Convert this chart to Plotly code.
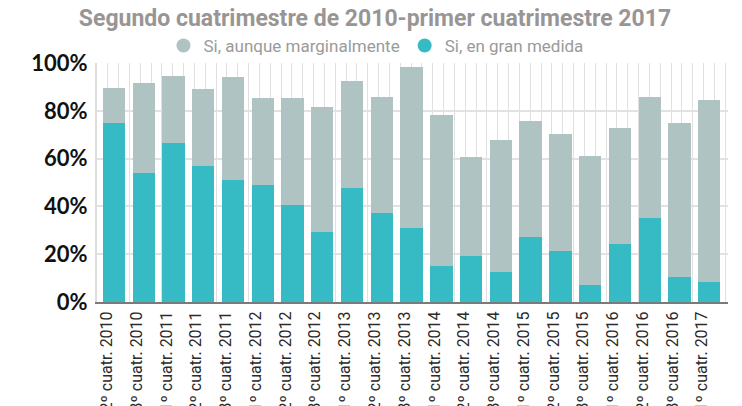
import plotly.graph_objects as go

# Periodos (cuatrimestres)
periodos = [
    "2º cuatr. 2010", "3º cuatr. 2010",
    "1º cuatr. 2011", "2º cuatr. 2011", "3º cuatr. 2011",
    "1º cuatr. 2012", "2º cuatr. 2012", "3º cuatr. 2012",
    "1º cuatr. 2013", "2º cuatr. 2013", "3º cuatr. 2013",
    "1º cuatr. 2014", "2º cuatr. 2014", "3º cuatr. 2014",
    "1º cuatr. 2015", "2º cuatr. 2015", "3º cuatr. 2015",
    "1º cuatr. 2016", "2º cuatr. 2016", "3º cuatr. 2016",
    "1º cuatr. 2017",
]

# % "Si, en gran medida"
gran_medida = [74.9, 54.0, 66.6, 56.9, 51.0, 48.9, 40.6, 29.2, 47.7, 37.2, 30.9,
               15.0, 19.2, 12.5, 27.1, 21.3, 7.0, 24.2, 35.1, 10.4, 8.3]
# % total (gran medida + marginalmente)
total = [89.6, 91.7, 94.7, 89.2, 94.2, 85.4, 85.4, 81.7, 92.6, 85.9, 98.4,
         78.3, 60.7, 67.8, 75.8, 70.3, 61.1, 72.9, 85.9, 75.0, 84.6]
marginal = [round(t - g, 1) for t, g in zip(total, gran_medida)]

ticks_y = [0, 20, 40, 60, 80, 100]

TEAL = "#36bac4"
GRIS = "#afc3c2"
FONT = "Roboto, Liberation Sans, sans-serif"

idx = list(range(len(periodos)))

fig = go.Figure()

fig.add_trace(go.Bar(
    x=idx, y=gran_medida, marker=dict(color=TEAL, line=dict(width=0)),
    width=0.75, showlegend=False, name="Si, en gran medida"
))
fig.add_trace(go.Bar(
    x=idx, y=marginal, marker=dict(color=GRIS, line=dict(width=0)),
    width=0.75, showlegend=False, name="Si, aunque marginalmente"
))

# legend entries with round markers
fig.add_trace(go.Scatter(
    x=[None], y=[None], mode="markers", name="Si, aunque marginalmente",
    marker=dict(color=GRIS, size=14, symbol="circle")
))
fig.add_trace(go.Scatter(
    x=[None], y=[None], mode="markers", name="Si, en gran medida",
    marker=dict(color=TEAL, size=14, symbol="circle")
))

# the page body adds 8px offset, margins compensate for it
fig.update_layout(
    width=742,
    height=406,
    barmode="stack",
    plot_bgcolor="white",
    paper_bgcolor="white",
    margin=dict(l=89, r=22, t=55, b=112, autoexpand=False),
    title=dict(
        text="Segundo cuatrimestre de 2010-primer cuatrimestre 2017",
        font=dict(family=FONT, size=23, color="#999595", weight="bold"),
        x=367 / 742, xanchor="center", xref="container",
        y=1 - 10 / 406, yanchor="middle", yref="container",
    ),
    legend=dict(
        orientation="h",
        traceorder="normal",
        x=(376 - 97) / 631, xanchor="center",
        y=1 + 17 / 239, yanchor="middle",
        font=dict(family=FONT, size=17, color="#9a9a9a"),
        itemwidth=30,
        bgcolor="rgba(0,0,0,0)",
    ),
    showlegend=True,
)

fig.update_xaxes(
    range=[-0.568, 20.63],
    tickmode="array",
    tickvals=idx,
    ticktext=periodos,
    tickangle=-90,
    tickfont=dict(family=FONT, size=16, color="#2a2a2a"),
    ticklabelshift=-7,
    showgrid=False,
    showline=True, linecolor="#7a7a7a", linewidth=2,
    ticks="outside", ticklen=1, tickcolor="rgba(0,0,0,0)",
    zeroline=False,
    automargin=False,
    minor=dict(
        showgrid=True, gridcolor="#e0e0e0", gridwidth=1,
        tick0=-0.568, dtick=0.3639,
    ),
)

fig.update_yaxes(
    range=[0, 100],
    tickmode="array",
    tickvals=ticks_y,
    ticktext=[f"{v}%" for v in ticks_y],
    tickfont=dict(family="Lato, DejaVu Sans, sans-serif", size=22, color="#111111", weight="bold"),
    showgrid=True, gridcolor="#e2e2e2", gridwidth=2,
    showline=True, linecolor="#dddddd", linewidth=2,
    ticks="outside", ticklen=3, tickcolor="rgba(0,0,0,0)",
    zeroline=False,
    automargin=False,
)

fig.write_html("out.html")
